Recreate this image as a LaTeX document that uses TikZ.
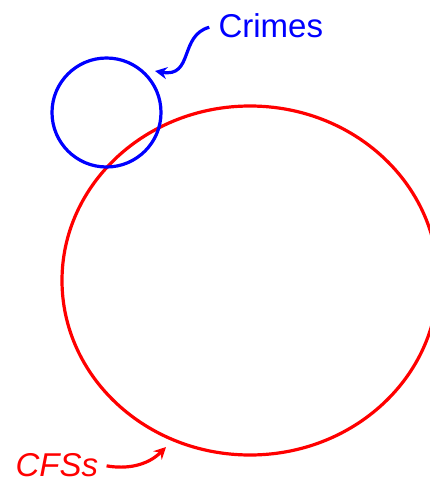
\documentclass[tikz,border=0pt]{standalone}
\usepackage{fontspec}
\setmainfont{Liberation Sans}
\usetikzlibrary{shapes.geometric,arrows.meta}

\tikzset{every picture/.style={line width=3.2pt}}
\tikzset{
  setline/.style={draw, inner sep=0pt, fill=none, line width=3.2pt},
  setlabel/.style={inner sep=0pt, font=\fontsize{33}{33}\selectfont},
  labelarrow/.style={-{Stealth[length=12pt,width=12pt,inset=4pt]}, line width=3.2pt}
}

\begin{document}
\begin{tikzpicture}[x=1pt,y=1pt,yscale=-1,xscale=1]
\useasboundingbox (0,0) rectangle (430,482);
\clip (0,0) rectangle (430,482);

% Sets
\node [setline, ellipse, color=red, minimum width=376pt, minimum height=349pt] (cfsset) at (250,280.5) {};
\node [setline, circle, color=blue, minimum size=109pt] (crimesset) at (106.5,112.5) {};

% Text Node
\node [setlabel, color=blue, anchor=base west] (crimes) at (217,37) {Crimes};
% Text Node
\node [setlabel, color=red, anchor=base west] (cfss) at (14,476) {\itshape CFSs};

% Arrow tips
\coordinate (crimestip) at (155,71);
\coordinate (cfstip) at (166,447);

% Arrows (angles flipped by yscale=-1)
\draw [labelarrow, color=blue, shorten <=8pt] (crimes.west) to [out=165, in=10, looseness=1.3] (crimestip);
\draw [labelarrow, color=red, shorten <=7pt] (cfss.east) to [out=10, in=135] (cfstip);

\end{tikzpicture}
\end{document}
